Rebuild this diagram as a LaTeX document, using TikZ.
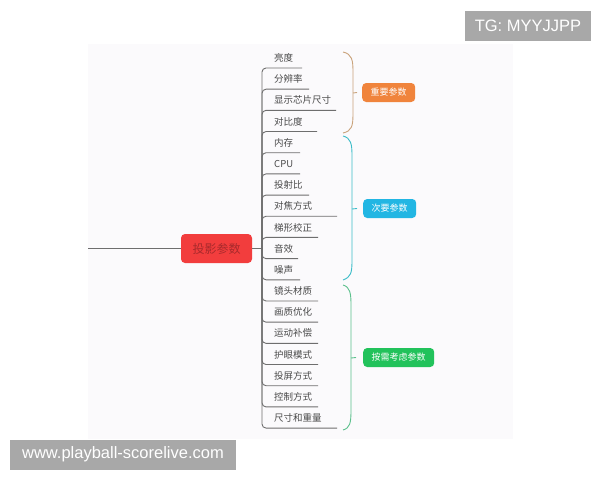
\documentclass[tikz,border=0pt]{standalone}
\usepackage{fontspec}
\setmainfont{Liberation Sans}
\newfontfamily\cjk{Noto Sans CJK SC}
\usepackage{tikz}
\usetikzlibrary{positioning}

\definecolor{treeline}{HTML}{6E6E6E}
\definecolor{itemtext}{HTML}{4A4A4A}
\definecolor{rootred}{HTML}{F23D3D}
\definecolor{roottext}{HTML}{A82A2C}
\definecolor{orangebox}{HTML}{F0843C}
\definecolor{orangebrace}{HTML}{C9A27A}
\definecolor{cyanbox}{HTML}{22B6E3}
\definecolor{cyanbrace}{HTML}{3BBCC8}
\definecolor{greenbox}{HTML}{22C25B}
\definecolor{greenbrace}{HTML}{5CC08C}
\definecolor{panelbg}{HTML}{FBFAFC}
\definecolor{wmgray}{HTML}{A8A8A8}

\tikzset{
  link/.style={draw=treeline, line width=0.9pt, rounded corners=4pt},
  item/.style={anchor=west, inner sep=0pt, text=itemtext, font=\cjk\fontsize{9.5}{11}\selectfont},
  rootbox/.style={fill=rootred, rounded corners=4pt, minimum width=71pt, minimum height=29pt,
    text=roottext, font=\cjk\fontsize{12}{14}\selectfont},
  tagbox/.style={rounded corners=4pt, minimum height=19pt, inner xsep=8.5pt, text=white,
    font=\cjk\fontsize{9}{11}\selectfont},
  brace/.style={line width=0.9pt},
  wm/.style={fill=wmgray, text=white, minimum height=30pt, font=\fontsize{16.5}{18}\selectfont}
}

\begin{document}
\begin{tikzpicture}[x=1pt, y=-1pt]
  \useasboundingbox (0,0) rectangle (600,480);
  \fill[panelbg] (88,44) rectangle (513,439); % panel

  \node[rootbox] (root) at (216.5,248.5) {投影参数};
  \coordinate (lft) at (88,248.5);
  \coordinate (hub) at (262,248.5);
  \draw[link] (lft) -- (root);
  \draw[link] (root) -- (hub);

  % children: name / underline end
  \foreach \txt/\xe [count=\i from 0] in {亮度/302, 分辨率/309, 显示芯片尺寸/336, 对比度/317,
      内存/300, CPU/300, 投射比/309, 对焦方式/337, 梯形校正/318, 音效/298, 噪声/300,
      镜头材质/318, 画质优化/318, 运动补偿/318, 护眼模式/318, 投屏方式/318, 控制方式/318,
      尺寸和重量/337} {
    \pgfmathsetmacro{\yu}{68+21.18*\i}
    \coordinate (u\i) at (\xe,\yu);
    \node[item] (c\i) at (274,\yu-10) {\txt};
    \draw[link] (hub) |- (u\i);
  }

  % braces
  \draw[brace, orangebrace] (343,52) .. controls (352,54) and (353,60) .. (353,72)
    -- (353,113) .. controls (353,126) and (352,131) .. (343,133);
  \coordinate (ob) at (353,93);
  \node[tagbox, fill=orangebox, anchor=west] (imp) at (362,92.5) {重要参数};
  \draw[brace, orangebrace] (ob) -- ([xshift=-5pt]imp.west);

  \draw[brace, cyanbrace] (343,136) .. controls (351,138) and (352,144) .. (352,156)
    -- (352,260) .. controls (352,273) and (351,277) .. (343,280);
  \coordinate (cb) at (352,209);
  \node[tagbox, fill=cyanbox, anchor=west] (sec) at (363,208.5) {次要参数};
  \draw[brace, cyanbrace] (cb) -- ([xshift=-6pt]sec.west);

  \draw[brace, greenbrace] (343,285) .. controls (350,287) and (351,293) .. (351,305)
    -- (351,410) .. controls (351,423) and (350,428) .. (343,430);
  \coordinate (gb) at (351,358);
  \node[tagbox, fill=greenbox, anchor=west] (opt) at (363,357.5) {按需考虑参数};
  \draw[brace, greenbrace] (gb) -- ([xshift=-7pt]opt.west);

  % watermarks
  \node[wm, minimum width=126pt] (tg) at (528,25.5) {TG: MYYJJPP};
  \node[wm, minimum width=226pt] (site) at (123,454.5) {www.playball-scorelive.com};
\end{tikzpicture}
\end{document}
